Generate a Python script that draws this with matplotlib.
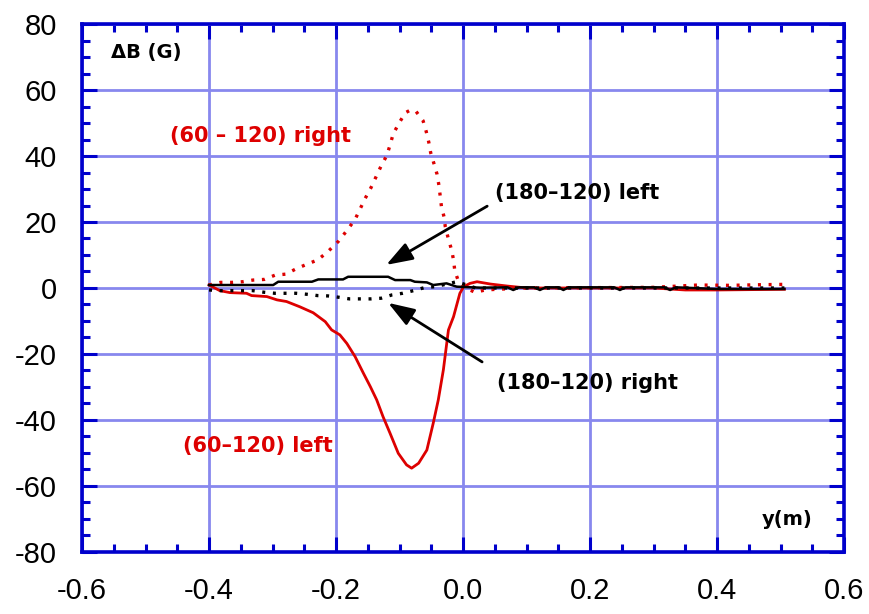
import numpy as np
import matplotlib
matplotlib.use("Agg")
import matplotlib.pyplot as plt
from matplotlib.ticker import MultipleLocator

# (60 - 120) right  -- red dotted
x_red_dot = [-0.40, -0.382, -0.364, -0.347, -0.331, -0.313, -0.296, -0.279, -0.263, -0.246,
             -0.229, -0.213, -0.196, -0.183, -0.170, -0.154, -0.145, -0.137, -0.129, -0.120,
             -0.115, -0.110, -0.101, -0.091, -0.082, -0.074, -0.063, -0.058, -0.054, -0.051,
             -0.046, -0.041, -0.038, -0.036, -0.034, -0.030, -0.028, -0.023, -0.018, -0.015,
             -0.013, -0.007, 0.0, 0.019, 0.035, 0.052, 0.10, 0.20, 0.30, 0.37, 0.42, 0.47, 0.506]
y_red_dot = [0.9, 1.7, 1.7, 1.9, 2.4, 2.6, 3.9, 4.2, 5.8, 7.2,
             8.5, 11.0, 14.2, 17.4, 20.8, 27.2, 30.4, 33.7, 37.0, 40.2,
             43.3, 46.7, 49.9, 53.1, 54.0, 53.5, 50.7, 47.4, 44.2, 41.0,
             37.8, 34.5, 31.1, 27.9, 24.6, 21.6, 18.6, 14.8, 11.5, 8.5,
             5.2, 1.9, 0.3, -1.3, -0.6, -0.4, 0.0, 0.1, 0.2, 0.9, 0.8, 1.0, 1.1]

# (60-120) left  -- red solid
x_red = [-0.40, -0.383, -0.367, -0.341, -0.333, -0.309, -0.293, -0.278, -0.257, -0.236,
         -0.217, -0.207, -0.194, -0.183, -0.170, -0.157, -0.146, -0.136, -0.126, -0.115,
         -0.102, -0.089, -0.081, -0.070, -0.057, -0.047, -0.039, -0.031, -0.023, -0.015,
         -0.005, 0.001, 0.011, 0.022, 0.043, 0.069, 0.10, 0.20, 0.30, 0.35, 0.40, 0.45, 0.506]
y_red = [0.9, -0.8, -1.4, -1.6, -2.3, -2.6, -3.6, -4.1, -5.7, -7.5,
         -10.2, -12.7, -14.2, -16.8, -20.8, -25.8, -29.9, -33.9, -39.0, -44.0,
         -50.1, -53.6, -54.6, -53.1, -49.1, -41.0, -33.9, -24.8, -12.7, -8.7,
         -1.6, 0.4, 1.4, 1.9, 1.2, 0.6, 0.0, 0.0, 0.0, -0.6, -0.6, -0.5, -0.4]

# (180-120) left  -- black solid
x_blk = [-0.40, -0.299, -0.291, -0.238, -0.228, -0.189, -0.181, -0.118, -0.107, -0.083,
         -0.076, -0.057, -0.047, -0.026, -0.010, 0.027, 0.070, 0.079, 0.088, 0.112,
         0.121, 0.130, 0.150, 0.158, 0.166, 0.238, 0.247, 0.256, 0.317, 0.326,
         0.335, 0.40, 0.45, 0.506]
y_blk = [0.9, 0.9, 1.9, 1.9, 2.6, 2.6, 3.4, 3.4, 2.4, 2.4,
         1.9, 1.7, 0.9, 1.4, 0.4, 0.1, 0.2, -0.6, 0.2, 0.2,
         -0.6, 0.2, 0.2, -0.6, 0.2, 0.2, -0.6, 0.2, 0.2, -0.6,
         0.2, -0.3, -0.3, -0.3]

# (180-120) right  -- black dotted
x_blk_dot = [-0.40, -0.382, -0.364, -0.347, -0.331, -0.313, -0.296, -0.279, -0.263, -0.246,
             -0.229, -0.213, -0.196, -0.179, -0.162, -0.145, -0.129, -0.112, -0.095, -0.078,
             -0.061, -0.044, -0.028, -0.010, 0.02, 0.10, 0.20, 0.30, 0.40, 0.506]
y_blk_dot = [-0.6, -0.8, -0.8, -0.8, -0.8, -1.3, -1.6, -1.6, -1.6, -1.9,
             -2.3, -2.4, -2.8, -3.3, -3.3, -3.3, -3.1, -2.1, -1.6, -0.8,
             0.1, 0.4, 1.1, 1.9, 0.0, 0.0, 0.0, 0.0, 0.0, 0.0]

red = "#dd0000"
blue = "#0000cc"
grid_c = "#8888ee"

plt.rcParams['font.family'] = ['Liberation Sans', 'DejaVu Sans']

fig = plt.figure(figsize=(8.7, 6.14), dpi=100)
ax = fig.add_axes([0.0943, 0.101, 0.8759, 0.8599])

ax.plot(x_red_dot, y_red_dot, color=red, lw=2.4, linestyle=(0, (0.9, 2.3)), zorder=3)
ax.plot(x_red, y_red, color=red, lw=2.0, zorder=3)
ax.plot(x_blk_dot, y_blk_dot, color="black", lw=2.4, linestyle=(0, (0.9, 2.3)), zorder=4)
ax.plot(x_blk, y_blk, color="black", lw=1.8, zorder=4)

ax.set_xlim(-0.6, 0.6)
ax.set_ylim(-80, 80)
ax.xaxis.set_major_locator(MultipleLocator(0.2))
ax.xaxis.set_minor_locator(MultipleLocator(0.05))
ax.yaxis.set_major_locator(MultipleLocator(20))
ax.yaxis.set_minor_locator(MultipleLocator(5))
ax.set_xticklabels([f"{v:.1f}" for v in ax.get_xticks()])
ax.set_yticklabels([f"{v:.0f}" for v in ax.get_yticks()])

ax.grid(True, which="major", color=grid_c, lw=2.0, zorder=1)
ax.tick_params(which="both", direction="in", top=True, right=True, color=blue)
ax.tick_params(which="major", length=11, width=2.2, labelsize=21, pad=18)
ax.tick_params(which="minor", length=6, width=2.2)
for s in ax.spines.values():
    s.set_color(blue)
    s.set_linewidth(2.6)
    s.set_zorder(5)

bold = dict(fontweight="bold", family="DejaVu Sans")
ax.text(-0.461, 46, "(60 – 120) right", color=red, fontsize=15, va="center", **bold)
ax.text(-0.441, -47.9, "(60\u2013120) left", color=red, fontsize=15, va="center", **bold)
ax.text(-0.554, 71.5, "\u0394B (G)", color="black", fontsize=14, va="center", **bold)
ax.text(0.55, -70.3, "y(m)", color="black", fontsize=14, va="center", ha="right", **bold)

arrow = dict(arrowstyle="-|>,head_length=0.8,head_width=0.28", color="black", lw=2,
             mutation_scale=20, shrinkA=0, shrinkB=0)
ax.annotate("", xy=(-0.121, 7.0), xytext=(0.038, 24.8), arrowprops=arrow, zorder=6)
ax.annotate("", xy=(-0.118, -4.5), xytext=(0.030, -22.4), arrowprops=arrow, zorder=6)
ax.text(0.050, 28.8, "(180\u2013120) left", color="black", fontsize=15, va="center", **bold)
ax.text(0.054, -28.8, "(180\u2013120) right", color="black", fontsize=15, va="center", **bold)

fig.savefig("out.png", dpi=100)
